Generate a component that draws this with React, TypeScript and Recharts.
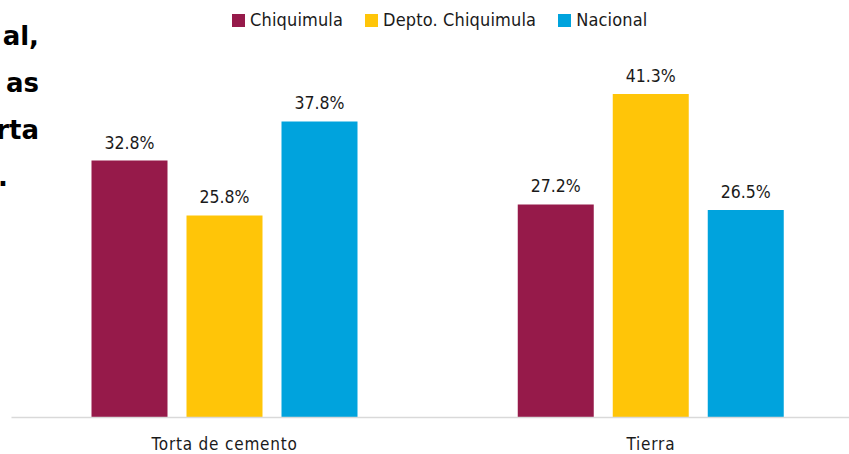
import React from "react";
import { BarChart, Bar, XAxis, YAxis, LabelList } from "recharts";

const categories = ["Torta de cemento", "Tierra"];
const chiquimula = [32.8, 27.2];
const deptoChiquimula = [25.8, 41.3];
const nacional = [37.8, 26.5];

const seriesNames = ["Chiquimula", "Depto. Chiquimula", "Nacional"];
const seriesKeys = ["chiquimula", "depto", "nacional"];
const seriesColors = ["#961A4A", "#FFC508", "#00A3DD"];

const sideText = ["al,", "as", "rta", "."];

const data = categories.map((c, i) => ({
  name: c,
  chiquimula: chiquimula[i],
  depto: deptoChiquimula[i],
  nacional: nacional[i],
}));

const FONT = '"DejaVu Sans Condensed", "Open Sans", sans-serif';

const fmt = (v: any) => `${Number(v).toFixed(1)}%`;

export default function App() {
  return (
    <div
      style={{
        position: "absolute",
        left: 0,
        top: 0,
        width: 849,
        height: 454,
        overflow: "hidden",
        background: "#ffffff",
      }}
    >
      <BarChart
        width={864}
        height={454}
        data={data}
        margin={{ top: 65, right: 0, bottom: 0, left: 11.5 }}
        barSize={76}
        barGap={19}
      >
        <XAxis
          dataKey="name"
          height={36.5}
          axisLine={{ stroke: "#d9d9d9", strokeWidth: 1.5 }}
          tickLine={false}
          tickMargin={14}
          tick={{ fill: "#1a1a1a", fontSize: 17, fontFamily: FONT, letterSpacing: 0.8 }}
          interval={0}
        />
        <YAxis hide domain={[0, 45]} />
        {seriesKeys.map((k, i) => (
          <Bar key={k} dataKey={k} name={seriesNames[i]} fill={seriesColors[i]} isAnimationActive={false}>
            <LabelList
              dataKey={k}
              position="top"
              offset={12}
              formatter={fmt}
              style={{ fill: "#1a1a1a", fontSize: 17.5, fontFamily: FONT }}
            />
          </Bar>
        ))}
      </BarChart>

      <div
        style={{
          position: "absolute",
          left: 232,
          top: 10,
          display: "flex",
          alignItems: "center",
          fontFamily: FONT,
          fontSize: 18,
          letterSpacing: 0.15,
          color: "#1a1a1a",
          lineHeight: "20px",
          whiteSpace: "nowrap",
        }}
      >
        {seriesNames.map((n, i) => (
          <div key={n} style={{ display: "flex", alignItems: "center", marginRight: 22 }}>
            <span
              style={{
                display: "inline-block",
                width: 13,
                height: 13,
                background: seriesColors[i],
                marginRight: 5,
              }}
            />
            <span>{n}</span>
          </div>
        ))}
      </div>

      <svg
        width={849}
        height={454}
        style={{ position: "absolute", left: 0, top: 0, pointerEvents: "none" }}
      >
        {sideText.map((t, i) => (
          <text
            key={i}
            x={i === 3 ? -2 : 39}
            y={45 + i * 47}
            textAnchor={i === 3 ? "start" : "end"}
            fontFamily='"DejaVu Sans", sans-serif'
            fontWeight="bold"
            fontSize={26}
            fill="#000"
          >
            {t}
          </text>
        ))}
      </svg>
    </div>
  );
}
